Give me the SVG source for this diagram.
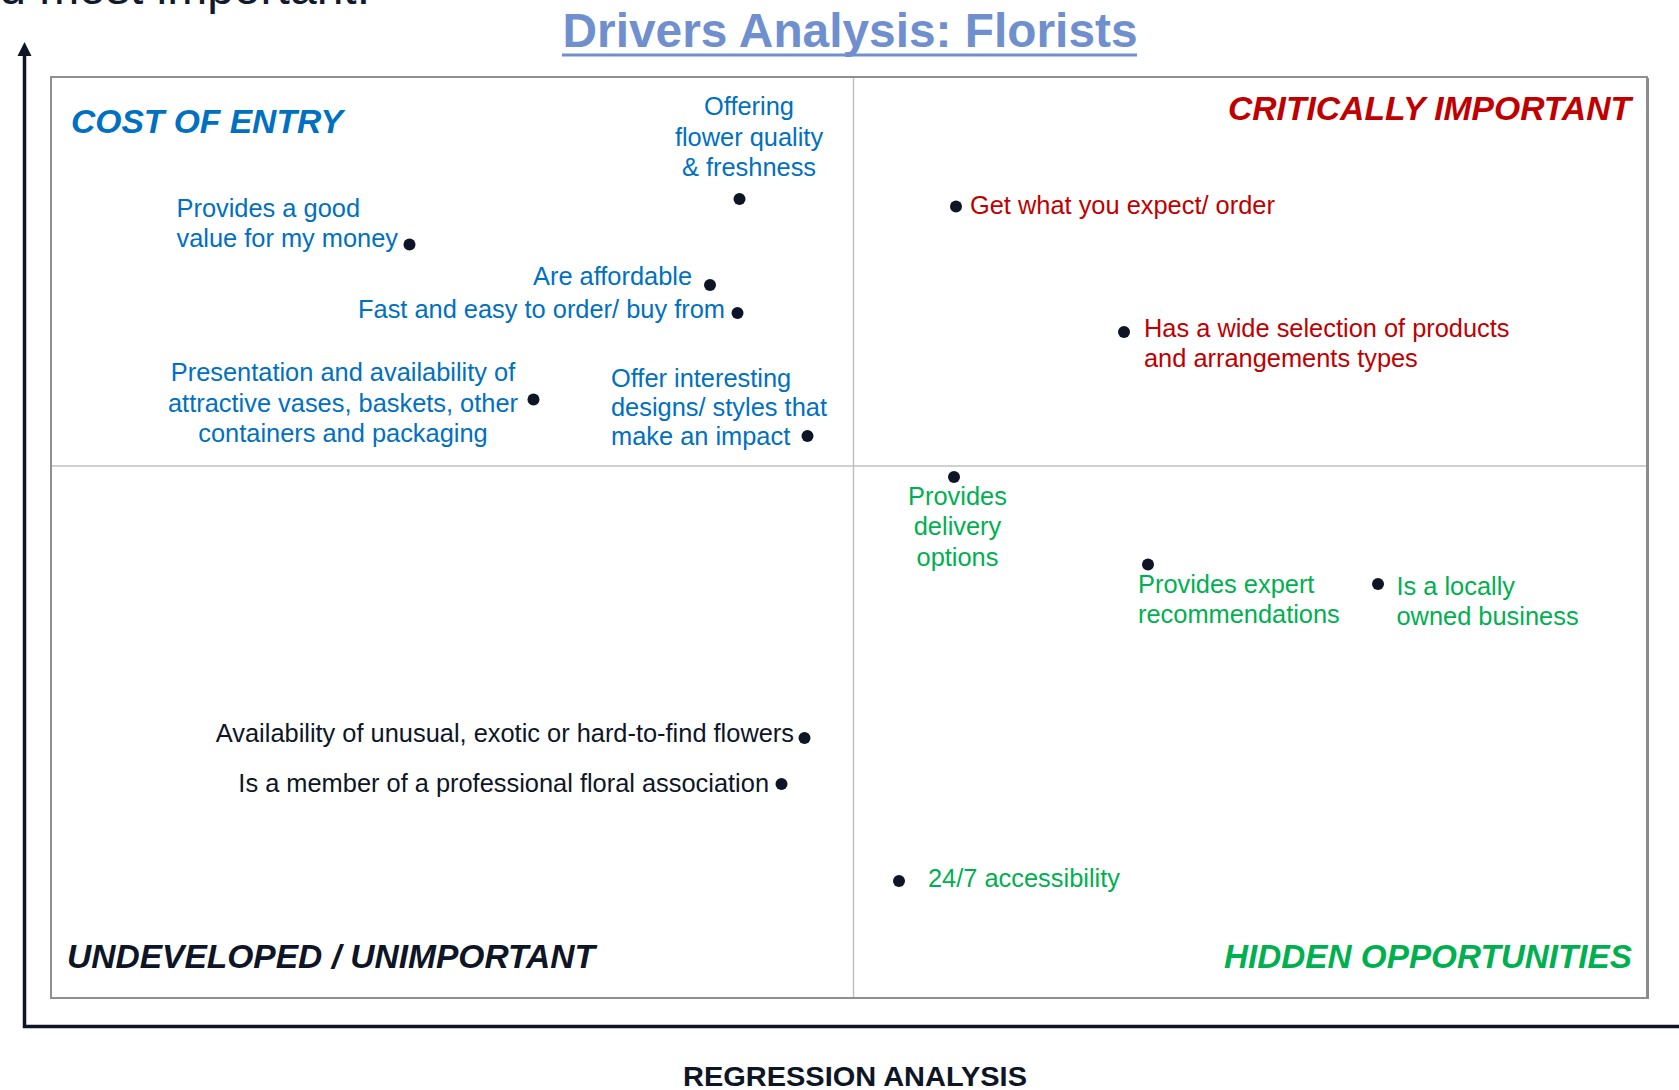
<svg xmlns="http://www.w3.org/2000/svg" width="1679" height="1090" viewBox="0 0 1679 1090">
<defs>
<style>
text{font-family:"Liberation Sans",Arial,Helvetica,sans-serif;}
.item{font-size:25.4px;}
.blue{fill:#0070c0;}
.red{fill:#c00000;}
.green{fill:#00b050;}
.dark{fill:#0d1526;}
.quad{font-size:33px;font-weight:bold;font-style:italic;}
.dot{fill:#0d1526;}
.mid{stroke:#c0c0c0;stroke-width:1.5;fill:none;}
.axis{stroke:#0d1526;stroke-width:3.5;fill:none;}
</style>
</defs>
<rect x="0" y="0" width="1679" height="1090" fill="#ffffff"/>

<g id="header">
<text x="370" y="3.5" font-size="48" fill="#111a2b" text-anchor="end">d most important.</text>
<text x="850" y="46.5" font-size="48" font-weight="bold" fill="#6f8fcf" text-anchor="middle" textLength="575" lengthAdjust="spacingAndGlyphs">Drivers Analysis: Florists</text>
<line x1="562" y1="55" x2="1137" y2="55" stroke="#6f8fcf" stroke-width="3"/>
</g>

<g id="frame">
<rect x="51" y="77" width="1596" height="921" fill="none" stroke="#8f8f8f" stroke-width="2"/>
<line x1="1648" y1="78" x2="1648" y2="999" stroke="#8a8a8a" stroke-width="2"/>
<line class="mid" x1="853.5" y1="78" x2="853.5" y2="997"/>
<line class="mid" x1="52" y1="466" x2="1646" y2="466"/>
</g>

<g id="connectors">
<g id="axes">
<line class="axis" x1="24.5" y1="54" x2="24.5" y2="1028"/>
<polygon points="24.5,42 17.5,56 31.5,56" fill="#0d1526"/>
<line class="axis" x1="23" y1="1026.5" x2="1679" y2="1026.5"/>
</g>
</g>

<g id="quadrant-labels">
<g id="q-cost-of-entry"><text class="quad blue" x="71" y="133" textLength="272" lengthAdjust="spacingAndGlyphs">COST OF ENTRY</text></g>
<g id="q-critically-important"><text class="quad red" x="1631" y="120" text-anchor="end" textLength="403" lengthAdjust="spacingAndGlyphs">CRITICALLY IMPORTANT</text></g>
<g id="q-undeveloped"><text class="quad dark" x="67" y="968" textLength="528" lengthAdjust="spacingAndGlyphs">UNDEVELOPED / UNIMPORTANT</text></g>
<g id="q-hidden"><text class="quad green" x="1632" y="968" text-anchor="end" textLength="408" lengthAdjust="spacingAndGlyphs">HIDDEN OPPORTUNITIES</text></g>
</g>

<g id="n-offering-quality">
<text class="item blue" text-anchor="middle"><tspan x="749" y="115">Offering</tspan><tspan x="749" y="145.5">flower quality</tspan><tspan x="749" y="175.5">&amp; freshness</tspan></text>
<circle class="dot" cx="739.5" cy="199" r="6"/>
</g>
<g id="n-good-value">
<text class="item blue"><tspan x="176.5" y="217">Provides a good</tspan><tspan x="176.5" y="247">value for my money</tspan></text>
<circle class="dot" cx="409.5" cy="244.5" r="6"/>
</g>
<g id="n-affordable">
<text class="item blue" x="533" y="285">Are affordable</text>
<circle class="dot" cx="710" cy="285" r="6"/>
</g>
<g id="n-fast-easy">
<text class="item blue" x="358" y="318">Fast and easy to order/ buy from</text>
<circle class="dot" cx="737.5" cy="313" r="6"/>
</g>
<g id="n-presentation">
<text class="item blue" text-anchor="middle"><tspan x="343" y="381">Presentation and availability of</tspan><tspan x="343" y="411.5">attractive vases, baskets, other</tspan><tspan x="343" y="441.5">containers and packaging</tspan></text>
<circle class="dot" cx="533.5" cy="399.5" r="6"/>
</g>
<g id="n-interesting-designs">
<text class="item blue"><tspan x="611" y="386.5">Offer interesting</tspan><tspan x="611" y="415.5">designs/ styles that</tspan><tspan x="611" y="445">make an impact</tspan></text>
<circle class="dot" cx="807.5" cy="436" r="6"/>
</g>

<g id="n-get-what-expect">
<circle class="dot" cx="956" cy="206.5" r="6"/>
<text class="item red" x="970" y="213.5">Get what you expect/ order</text>
</g>
<g id="n-wide-selection">
<circle class="dot" cx="1124" cy="332" r="6"/>
<text class="item red"><tspan x="1144" y="336.5">Has a wide selection of products</tspan><tspan x="1144" y="366.5">and arrangements types</tspan></text>
</g>

<g id="n-delivery">
<circle class="dot" cx="954" cy="477" r="6"/>
<text class="item green" text-anchor="middle"><tspan x="957.5" y="504.5">Provides</tspan><tspan x="957.5" y="535">delivery</tspan><tspan x="957.5" y="565.5">options</tspan></text>
</g>
<g id="n-expert">
<circle class="dot" cx="1148" cy="564.5" r="6"/>
<text class="item green"><tspan x="1138" y="593">Provides expert</tspan><tspan x="1138" y="623">recommendations</tspan></text>
</g>
<g id="n-locally-owned">
<circle class="dot" cx="1378" cy="584" r="6"/>
<text class="item green"><tspan x="1396.5" y="595">Is a locally</tspan><tspan x="1396.5" y="625">owned business</tspan></text>
</g>
<g id="n-24-7">
<circle class="dot" cx="899" cy="881" r="6"/>
<text class="item green" x="928" y="886.5">24/7 accessibility</text>
</g>

<g id="n-unusual-flowers">
<text class="item dark" x="794" y="742" text-anchor="end">Availability of unusual, exotic or hard-to-find flowers</text>
<circle class="dot" cx="804.5" cy="738" r="6"/>
</g>
<g id="n-floral-association">
<text class="item dark" x="769" y="792" text-anchor="end">Is a member of a professional floral association</text>
<circle class="dot" cx="781.5" cy="784" r="6"/>
</g>

<g id="x-axis-label">
<text x="855" y="1086" font-size="28.5" font-weight="bold" fill="#0d1526" text-anchor="middle" textLength="344" lengthAdjust="spacingAndGlyphs">REGRESSION ANALYSIS</text>
</g>
</svg>
